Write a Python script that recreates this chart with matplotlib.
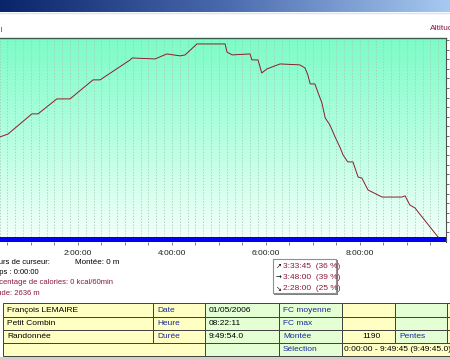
import numpy as np
import matplotlib.pyplot as plt
from matplotlib.patches import Rectangle
from matplotlib.colors import LinearSegmentedColormap

plt.rcParams['font.family'] = ['Liberation Sans', 'DejaVu Sans']

# profil altimétrique : temps (heures) et altitude (m)
temps = [0.0, 0.34, 0.51, 1.02, 1.15, 1.55, 1.83, 2.32, 2.47, 3.11, 3.15, 3.64,
         3.89, 4.17, 4.28, 4.53, 5.13, 5.17, 5.28, 5.66, 5.70, 5.83, 5.91, 6.02,
         6.30, 6.72, 6.83, 6.89, 6.94, 7.04, 7.11, 7.19, 7.26, 7.36, 7.47, 7.57,
         7.64, 7.74, 7.85, 7.96, 8.04, 8.17, 8.47, 8.89, 8.96, 9.06, 9.17, 9.66]
altitude = [2124, 2145, 2160, 2265, 2265, 2343, 2343, 2442, 2442, 2546, 2556, 2551,
            2577, 2567, 2572, 2629, 2629, 2587, 2572, 2577, 2546, 2546, 2478, 2499,
            2525, 2520, 2504, 2468, 2421, 2421, 2374, 2322, 2244, 2207, 2145, 2093,
            2051, 2015, 2015, 1936, 1931, 1869, 1832, 1832, 1838, 1791, 1775, 1624]

duree = 9.83
tick_heures = [2, 4, 6, 8]
tick_labels = ['2:00:00', '4:00:00', '6:00:00', '8:00:00']

infos = [('Valeurs de curseur:', 'black'), ('Temps : 0:00:00', 'black'),
         ('Pourcentage de calories: 0 kcal/60min', '#8b1a3a'), ('Altitude: 2636 m', '#8b1a3a')]
info_fins = [50, 39, 113, 40]
pentes_fleches = ['\u2197', '\u2192', '\u2198']
pentes_textes = ['3:33:45  (36 %)', '3:48:00  (39 %)', '2:28:00  (25 %)']

tableau = [
    ['François LEMAIRE', 'Date', '01/05/2006', 'FC moyenne', '', '', ''],
    ['Petit Combin', 'Heure', '08:22:11', 'FC max', '', '', ''],
    ['Randonnée', 'Durée', '9:49:54.0', 'Montée', '1190', 'Pentes', ''],
]
selection = '0:00:00 - 9:49:45 (9:49:45.0)'

W, H = 450, 360
fig = plt.figure(figsize=(4.5, 3.6), dpi=100)
fig.patch.set_facecolor('white')

# couche de fond en pixels
ov = fig.add_axes([0, 0, 1, 1], zorder=0)
ov.set_xlim(0, W)
ov.set_ylim(H, 0)
ov.axis('off')

# barre de titre
grad = np.linspace(0, 1, 256)[None, :]
bar_cmap = LinearSegmentedColormap.from_list('bar', ['#0a246a', '#4a6aae', '#a6caf0'])
ov.imshow(grad, cmap=bar_cmap, extent=[0, W, 12, 0], aspect='auto', zorder=1)
ov.plot([0, W], [12.5, 12.5], color='#d8e4f4', lw=1, zorder=2)

ov.text(430, 29, 'Altitude', color='#8b1a4a', fontsize=6, va='center', ha='left')
ov.text(2.5, 30, 'Profil', color='#b03050', fontsize=6, va='center', ha='right')

# axe principal
ax = fig.add_axes([-16 / W, (H - 242) / H, 462 / W, 204 / H], zorder=2)
ymin, ybas, ymax = 1598, 1624, 2660
vert = LinearSegmentedColormap.from_list('vert', ['#f2fffa', '#b4ffe0', '#7cfcc6'])
ax.imshow(np.linspace(0, 1, 256)[:, None], cmap=vert, origin='lower',
          extent=[0, duree, ybas, ymax], aspect='auto', zorder=0)
for t in np.arange(1 / 6, duree, 1 / 6):
    ax.axvline(t, ymin=(ybas - ymin) / (ymax - ymin), color='#a8c8b8',
               lw=0.6, ls=(0, (1.5, 2)), zorder=1)
ax.axhspan(ymin, ybas, color='#0000f0', zorder=2, lw=0)
ax.plot(temps, altitude, color='#8c1c2c', lw=0.7, zorder=3)
ax.set_xlim(0, duree)
ax.set_ylim(ymin, ymax)

ax.set_xticks(np.arange(0.5, duree, 0.5))
ax.set_xticklabels([tick_labels[tick_heures.index(int(t))] if t in tick_heures else ''
                    for t in np.arange(0.5, duree, 0.5)])
ax.tick_params(axis='x', direction='out', length=2.5, width=0.6, color='#707070',
               labelsize=6, pad=3, labelcolor='#202020')
ax.yaxis.tick_right()
ax.set_yticks(np.arange(1650, 2660, 50))
ax.tick_params(axis='y', direction='out', length=2.5, width=0.6, color='#505050',
               labelright=False)
for s in ['left', 'bottom']:
    ax.spines[s].set_visible(False)
ax.spines['top'].set_color('#3c5c50')
ax.spines['right'].set_color('#505050')
ax.spines['top'].set_linewidth(1)
ax.spines['right'].set_linewidth(0.8)

# infos du curseur
for i, ((txt, c), xf) in enumerate(zip(infos, info_fins)):
    ov.text(xf, 262 + i * 10.4, txt, color=c, fontsize=5.5, ha='right', va='center')
ov.text(75, 262, 'Montée: 0 m', color='black', fontsize=5.8, ha='left', va='center')

# encadré des pentes
ov.add_patch(Rectangle((274, 260), 64, 35, facecolor='#808080', lw=0, zorder=3))
ov.add_patch(Rectangle((273, 259), 63, 34, facecolor='white', edgecolor='#909090', lw=0.8, zorder=4))
for i, (f, txt) in enumerate(zip(pentes_fleches, pentes_textes)):
    yy = 266 + i * 11.5
    ov.text(276, yy, f, color='black', fontsize=5, ha='left', va='center',
            family=['DejaVu Sans'], zorder=5)
    ov.text(283, yy, txt, color='#8b1a3a', fontsize=6, ha='left', va='center', zorder=5)

# tableau
cols = [3, 153, 205, 279, 342, 395, 447]
rows = [303, 316.5, 329.5, 342.5, 355.5]
jaune, vertp = '#ffffc4', '#e4ffd4'
fonds = [jaune, jaune, vertp, vertp, jaune, vertp, jaune]
coul_txt = ['black', '#1a2a9a', 'black', '#1a2a9a', 'black', '#1a2a9a', 'black']
for r, ligne in enumerate(tableau):
    for c, val in enumerate(ligne):
        x0 = cols[c]
        x1 = cols[c + 1] if c + 1 < len(cols) else 452
        ov.add_patch(Rectangle((x0, rows[r]), x1 - x0, rows[r + 1] - rows[r],
                               facecolor=fonds[c], edgecolor='#404040', lw=0.7, zorder=3))
        if val:
            if c == 4:
                ov.text(381, (rows[r] + rows[r + 1]) / 2 + 0.3, val, fontsize=6,
                        color=coul_txt[c], ha='right', va='center', zorder=4)
            else:
                ov.text(x0 + 4, (rows[r] + rows[r + 1]) / 2 + 0.3, val, fontsize=6,
                        color=coul_txt[c], ha='left', va='center', zorder=4)
r0, r1 = rows[3], rows[4]
ov.add_patch(Rectangle((cols[0], r0), cols[2] - cols[0], r1 - r0, facecolor=jaune,
                       edgecolor='#404040', lw=0.7, zorder=3))
ov.add_patch(Rectangle((cols[2], r0), cols[3] - cols[2], r1 - r0, facecolor=vertp,
                       edgecolor='#404040', lw=0.7, zorder=3))
ov.add_patch(Rectangle((cols[3], r0), cols[4] - cols[3], r1 - r0, facecolor=vertp,
                       edgecolor='#404040', lw=0.7, zorder=3))
ov.add_patch(Rectangle((cols[4], r0), 452 - cols[4], r1 - r0, facecolor=jaune,
                       edgecolor='#404040', lw=0.7, zorder=3))
ov.text(cols[3] + 4, (r0 + r1) / 2 + 0.3, 'Sélection', fontsize=6, color='#1a2a9a',
        ha='left', va='center', zorder=4)
ov.text(cols[4] + 2, (r0 + r1) / 2 + 0.3, selection, fontsize=6, color='black',
        ha='left', va='center', zorder=4)

ov.add_patch(Rectangle((0, 357), W, 3, facecolor='#d4d0c8', lw=0, zorder=3))

fig.savefig('out.png', dpi=100)
